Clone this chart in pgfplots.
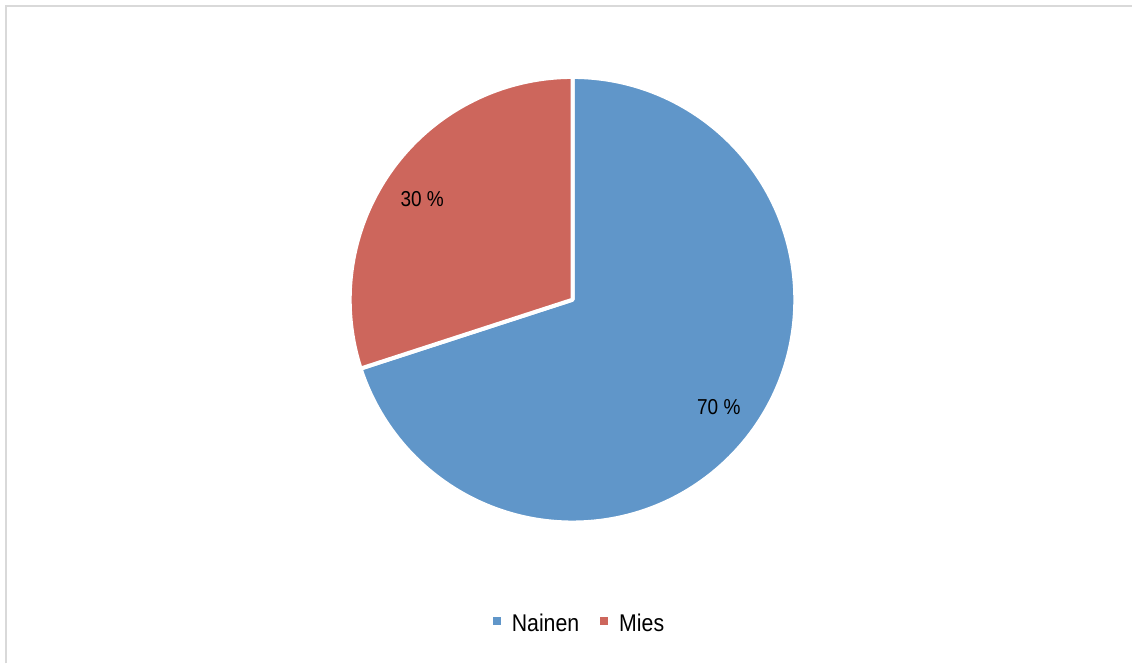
\documentclass[border=0pt]{standalone}
\usepackage{pgfplots}
\pgfplotsset{compat=1.18}
\usepackage{pgfplotstable}
\usepackage{fontspec}
\setmainfont{Liberation Sans}[FakeStretch=0.88]
\definecolor{cBlue}{RGB}{96,150,201}
\definecolor{cRed}{RGB}{205,102,92}
\definecolor{cFrame}{RGB}{217,217,217}
\pgfplotstableread{
label value
Nainen 70
Mies 30
}\piedata
\begin{document}
\begin{tikzpicture}
\pgfplotstablegetelem{0}{value}\of\piedata \global\let\va\pgfplotsretval
\pgfplotstablegetelem{1}{value}\of\piedata \global\let\vb\pgfplotsretval
\pgfmathsetmacro\fracB{\va/(\va+\vb)}
\pgfmathsetmacro\fracR{\vb/(\va+\vb)}
\pgfmathsetmacro\angB{90-360*\fracB}
\pgfmathsetmacro\angR{90+360*\fracR}
\pgfmathsetmacro\midB{(90+\angB)/2}
\pgfmathsetmacro\midR{(90+\angR)/2}
\begin{axis}[
  width=566.5pt, height=332pt, scale only axis,
  xmin=0, xmax=1133, ymin=0, ymax=664,
  hide axis, clip=false,
  legend style={draw=none, fill=none, at={(axis cs:581,39.5)}, anchor=center,
    legend columns=2, font=\fontsize{12.1}{14}\selectfont,
    /tikz/every odd column/.append style={column sep=3.5pt},
    /tikz/every even column/.append style={column sep=8.5pt}},
  legend image code/.code={\fill[#1] (0pt,-0.3pt) rectangle (4pt,3.7pt);},
]
\path (axis cs:0,0) (axis cs:1133,664);
\draw[cFrame, line width=1pt] (axis cs:6,0) -- (axis cs:6,658) -- (axis cs:1133,658);
\filldraw[fill=cBlue, draw=white, line width=2pt, line join=round]
  (axis cs:573,364) -- ++(90:111.5pt) arc[start angle=90, end angle=\angB, radius=111.5pt] -- cycle;
\filldraw[fill=cRed, draw=white, line width=2pt, line join=round]
  (axis cs:573,364) -- ++(90:111.5pt) arc[start angle=90, end angle=\angR, radius=111.5pt] -- cycle;
\path (axis cs:573,364) ++(\midB:90.5pt) node[font=\fontsize{10.8}{12}\selectfont, yshift=-0.5pt] {\va{} \%};
\path (axis cs:573,364) ++(\midR:90.5pt) node[font=\fontsize{10.8}{12}\selectfont, xshift=-2pt, yshift=-3pt] {\vb{} \%};
\addlegendimage{fill=cBlue, draw=none}
\addlegendentry{Nainen}
\addlegendimage{fill=cRed, draw=none}
\addlegendentry{Mies}
\end{axis}
\end{tikzpicture}
\end{document}
